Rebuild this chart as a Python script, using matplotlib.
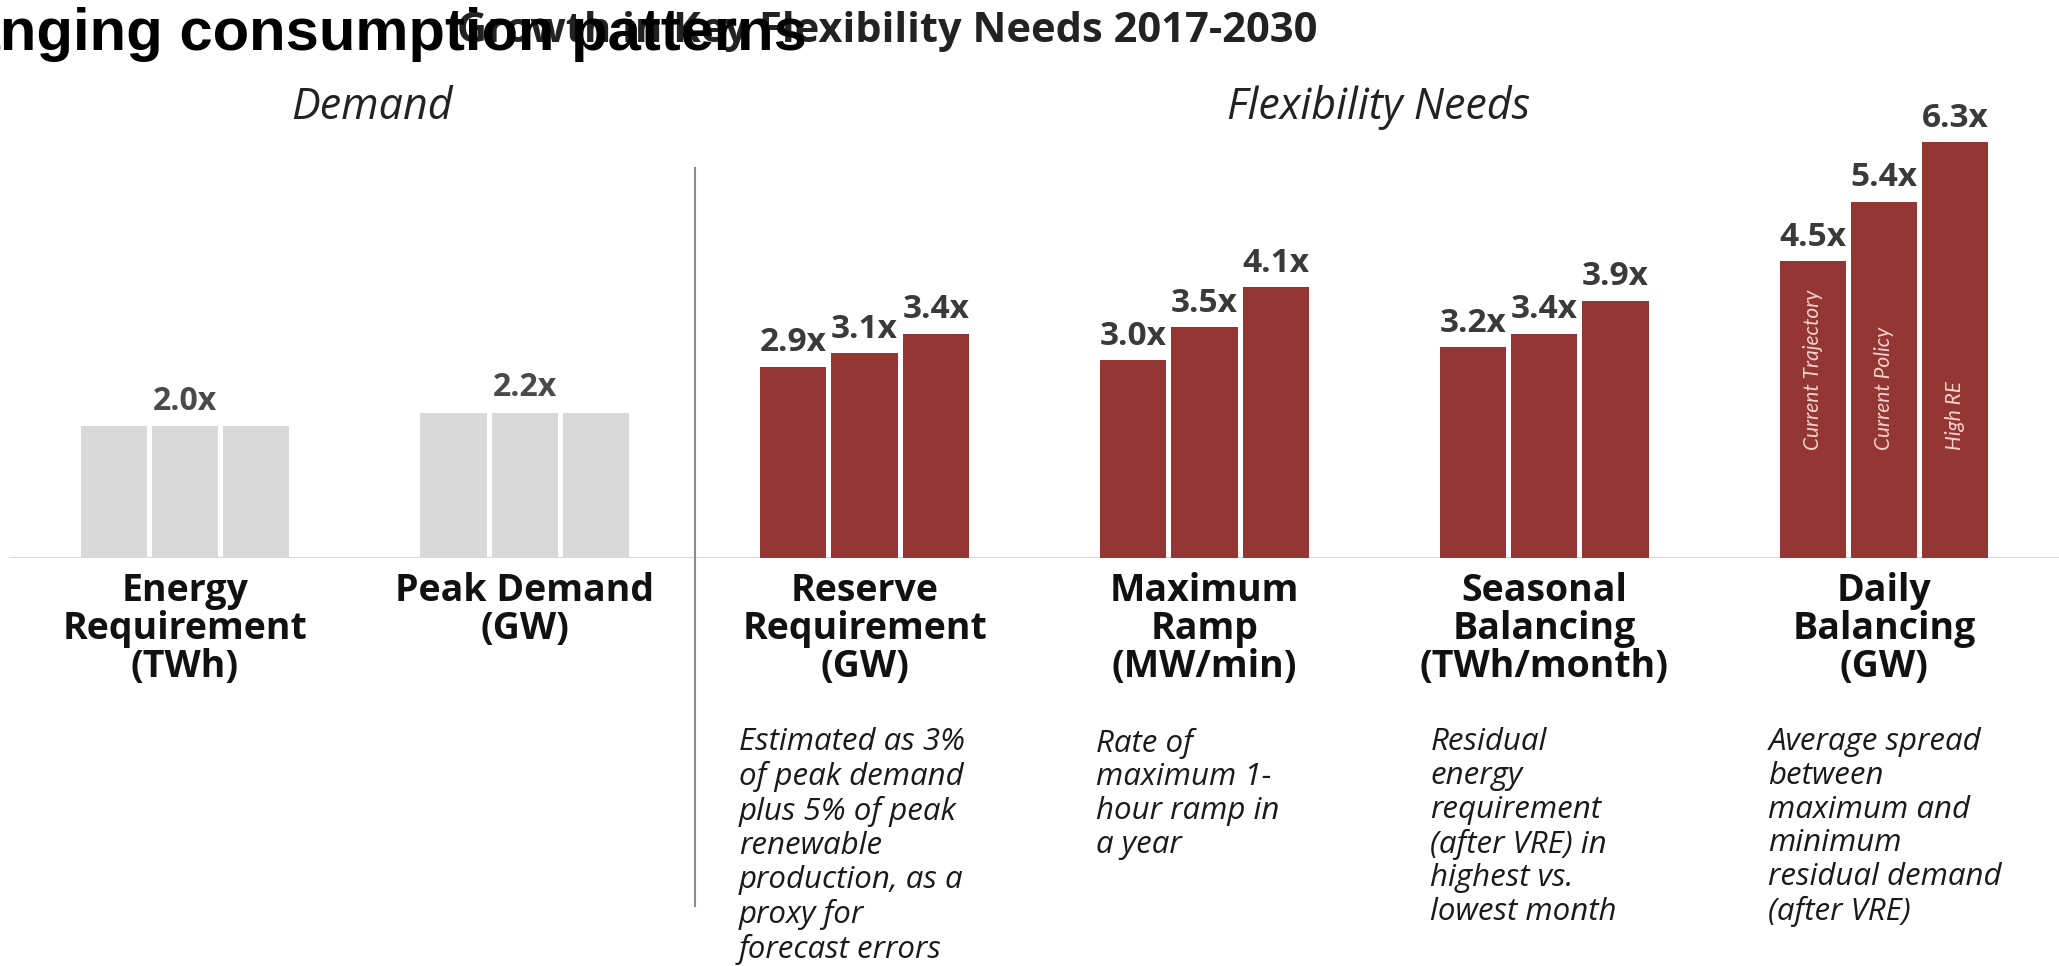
import matplotlib
matplotlib.use("Agg")
import matplotlib.pyplot as plt

categories = ["Energy\nRequirement\n(TWh)", "Peak Demand\n(GW)",
              "Reserve\nRequirement\n(GW)", "Maximum\nRamp\n(MW/min)",
              "Seasonal\nBalancing\n(TWh/month)", "Daily\nBalancing\n(GW)"]
scenarios = ["Current Trajectory", "Current Policy", "High RE"]
current_trajectory = [2.0, 2.2, 2.9, 3.0, 3.2, 4.5]
current_policy = [2.0, 2.2, 3.1, 3.5, 3.4, 5.4]
high_re = [2.0, 2.2, 3.4, 4.1, 3.9, 6.3]
is_demand = [True, True, False, False, False, False]
descriptions = [
    "",
    "",
    "Estimated as 3%\nof peak demand\nplus 5% of peak\nrenewable\nproduction, as a\nproxy for\nforecast errors",
    "Rate of\nmaximum 1-\nhour ramp in\na year",
    "Residual\nenergy\nrequirement\n(after VRE) in\nhighest vs.\nlowest month",
    "Average spread\nbetween\nmaximum and\nminimum\nresidual demand\n(after VRE)",
]
title = "Growth in Key Flexibility Needs 2017-2030"
overlay_title = "Changing consumption patterns"

RED = "#943634"
GREY = "#d9d9d9"
W, H = 2059, 966
PX_X = 339.8     # pixels between category centres
C0 = 185         # pixel x of first category centre
BASE = 558       # pixel y of baseline
PX_Y = 66.0      # pixels per unit multiplier
TOP = 100

BOLD = dict(family=["Open Sans", "DejaVu Sans"], weight="bold")
ITAL = dict(family=["Open Sans", "DejaVu Sans"], style="italic")

fig = plt.figure(figsize=(W / 100, H / 100), dpi=100)
ax = fig.add_axes([0, (H - BASE) / H, 1, (BASE - TOP) / H])
ax.set_xlim(-C0 / PX_X, (W - C0) / PX_X)
ax.set_ylim(0, (BASE - TOP) / PX_Y)
ax.axis("off")

offsets = [-0.21, 0.0, 0.21]
width = 0.195
series = [current_trajectory, current_policy, high_re]
desc_dx = [0, 0, -0.37, -0.318, -0.335, -0.34]

for i, cat in enumerate(categories):
    col = GREY if is_demand[i] else RED
    for k, vals in enumerate(series):
        ax.bar(i + offsets[k], vals[i], width, color=col, linewidth=0)
        if not is_demand[i]:
            ax.annotate(f"{vals[i]:.1f}x", (i + offsets[k], vals[i]),
                        xytext=(0, 17), textcoords="offset points",
                        ha="center", va="center", fontsize=24,
                        color="#3a3a3a", **BOLD)
    if is_demand[i]:
        ax.annotate(f"{current_policy[i]:.1f}x", (i, current_policy[i]),
                    xytext=(0, 18), textcoords="offset points",
                    ha="center", va="center", fontsize=23,
                    color="#4a4a4a", **BOLD)
    ax.annotate(cat, (i, 0), xytext=(0, -10), textcoords="offset points",
                ha="center", va="top", fontsize=27, linespacing=1.0,
                color="#111111", **BOLD)
    if descriptions[i]:
        ax.annotate(descriptions[i], (i + desc_dx[i], 0), xytext=(0, -122),
                    textcoords="offset points", ha="left", va="top",
                    fontsize=22.5, linespacing=1.16, color="#1a1a1a", **ITAL)

# scenario names written inside the last group
last = len(categories) - 1
for k, name in enumerate(scenarios):
    ax.text(last + offsets[k], 1.64, name, rotation=90, ha="center",
            va="bottom", fontsize=15, color="#f4d3cc", style="italic",
            family=["Lato", "DejaVu Sans"])

ax.axhline(0, xmin=10 / W, xmax=1, color="#d8d8d8", lw=2.2, zorder=0)
ax.plot([1.5, 1.5], [-(906 - BASE) / PX_Y, (BASE - 168) / PX_Y],
        color="#8c8c8c", lw=1.5, clip_on=False)

fig.text(372 / W, 1 - 108 / H, "Demand", ha="center", va="center",
         fontsize=31, color="#222222", **ITAL)
fig.text(1379 / W, 1 - 108 / H, "Flexibility Needs", ha="center",
         va="center", fontsize=31, color="#222222", **ITAL)
fig.text(1317 / W, 1 - 32 / H, title, ha="right", va="center",
         fontsize=30, color="#222222", **BOLD)
fig.text(-113 / W, 1 - 50 / H, overlay_title, ha="left", va="baseline",
         fontsize=43, weight="bold", family=["Liberation Sans", "DejaVu Sans"])

fig.savefig("out.png", dpi=100, facecolor="white")
